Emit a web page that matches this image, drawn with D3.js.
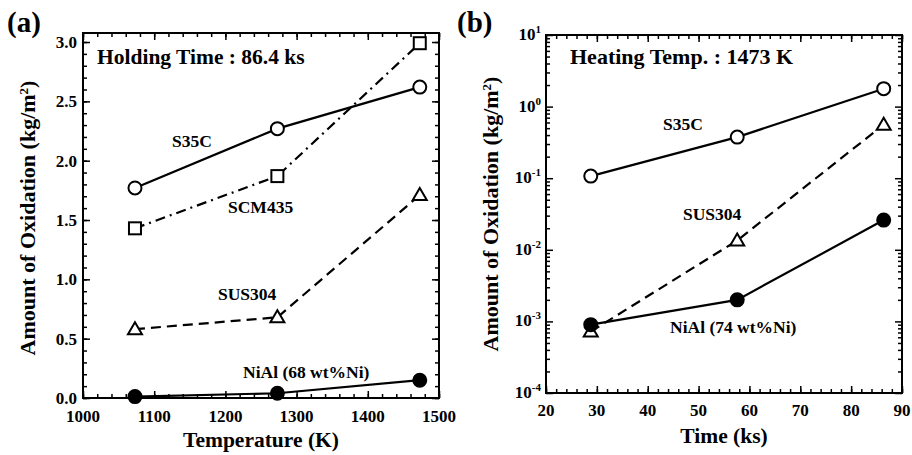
<!DOCTYPE html>
<html>
<head>
    <meta charset="utf-8">
    <title>Amount of oxidation</title>
    <script src="https://d3js.org/d3.v7.min.js"></script>
    <style>
        body { margin: 0; background: white; }
        svg text { font-family: "Liberation Serif", "Times New Roman", serif; font-weight: bold; fill: black; }
        .tick line { stroke: black; stroke-width: 1.5; }
    </style>
</head>
<body>
    <div id="chart"></div>

    <script>
        // panel (a): holding time 86.4 ks
        var tempK = [1073, 1273, 1473];
        var a_s35c = [1.77, 2.27, 2.62];
        var a_scm435 = [1.43, 1.87, 2.99];
        var a_sus304 = [0.58, 0.68, 1.71];
        var a_nial = [0.012, 0.04, 0.15];
        var a_xticks = [1000, 1100, 1200, 1300, 1400, 1500];
        var a_yticks = [0, 0.5, 1.0, 1.5, 2.0, 2.5, 3.0];

        // panel (b): heating temp 1473 K
        var timeKs = [28.8, 57.6, 86.4];
        var b_s35c = [0.107, 0.375, 1.78];
        var b_sus304 = [0.00072, 0.0135, 0.56];
        var b_nial = [0.0009, 0.002, 0.026];
        var b_xticks = [20, 30, 40, 50, 60, 70, 80, 90];
        var b_yexp = [-4, -3, -2, -1, 0, 1];

        var W = 912, H = 455;
        var svg = d3.select("#chart").append("svg")
                    .attr("width", W)
                    .attr("height", H);

        function frame(g, x0, x1, y0, y1)
        {
            g.append("rect")
             .attr("x", x0).attr("y", y0)
             .attr("width", x1 - x0).attr("height", y1 - y0)
             .attr("fill", "none").attr("stroke", "black").attr("stroke-width", 2);
        }

        // inward ticks on all 4 sides, no labels
        function tick_axes(g, x, y, xmaj, xmin, ymaj, ymin, left, right, top, bottom)
        {
            var defs = [
                [d3.axisBottom(x).tickValues(xmaj).tickSize(-7), bottom, 0],
                [d3.axisBottom(x).tickValues(xmin).tickSize(-4), bottom, 0],
                [d3.axisTop(x).tickValues(xmaj).tickSize(-7), top, 0],
                [d3.axisTop(x).tickValues(xmin).tickSize(-4), top, 0],
                [d3.axisLeft(y).tickValues(ymaj).tickSize(-7), left, 1],
                [d3.axisLeft(y).tickValues(ymin).tickSize(-4), left, 1],
                [d3.axisRight(y).tickValues(ymaj).tickSize(-7), right, 1],
                [d3.axisRight(y).tickValues(ymin).tickSize(-4), right, 1]
            ];
            defs.forEach(function(d){
                var ax = g.append("g")
                          .attr("transform", d[2] ? "translate(" + d[1] + ",0)" : "translate(0," + d[1] + ")")
                          .call(d[0].tickFormat(""));
                ax.select(".domain").remove();
            });
        }

        function draw_series(g, x, y, xs, ys, dash, marker)
        {
            var pts = xs.map(function(v, i){ return [x(v), y(ys[i])]; });
            g.append("path")
             .attr("d", d3.line()(pts))
             .attr("fill", "none").attr("stroke", "black").attr("stroke-width", 2.2)
             .attr("stroke-dasharray", dash);
            pts.forEach(function(p){
                if(marker == "circle" || marker == "dot")
                    g.append("circle").attr("cx", p[0]).attr("cy", p[1]).attr("r", 6.5)
                     .attr("fill", marker == "dot" ? "black" : "white")
                     .attr("stroke", "black").attr("stroke-width", 2);
                else if(marker == "square")
                    g.append("rect").attr("x", p[0] - 6).attr("y", p[1] - 6)
                     .attr("width", 12).attr("height", 12)
                     .attr("fill", "white").attr("stroke", "black").attr("stroke-width", 2);
                else
                    g.append("path")
                     .attr("d", "M" + p[0] + "," + (p[1] - 7) + "L" + (p[0] + 7) + "," + (p[1] + 5) + "L" + (p[0] - 7) + "," + (p[1] + 5) + "Z")
                     .attr("fill", "white").attr("stroke", "black").attr("stroke-width", 2)
                     .attr("stroke-linejoin", "miter");
            });
        }

        function label(g, txt, x, y, size, anchor)
        {
            g.append("text").attr("x", x).attr("y", y)
             .attr("font-size", size)
             .attr("text-anchor", anchor || "start")
             .text(txt);
        }

        // ---------- panel (a) ----------
        var ga = svg.append("g");
        var ax = d3.scaleLinear().domain([1000, 1500]).range([83, 439]);
        var ay = d3.scaleLinear().domain([0, 3.076]).range([398, 33]);

        frame(ga, 83, 439, 33, 398);
        tick_axes(ga, ax, ay, a_xticks, d3.range(1000, 1501, 20), a_yticks, d3.range(0, 3.05, 0.1),
                  83, 439, 33, 398);

        a_xticks.forEach(function(t){ label(ga, t, ax(t), 422, 17, "middle"); });
        a_yticks.forEach(function(t){ label(ga, t.toFixed(1), 77, ay(t) + 6, 17, "end"); });

        draw_series(ga, ax, ay, tempK, a_scm435, "10,5,2,5", "square");
        draw_series(ga, ax, ay, tempK, a_sus304, "10,6", "triangle");
        draw_series(ga, ax, ay, tempK, a_s35c, null, "circle");
        draw_series(ga, ax, ay, tempK, a_nial, null, "dot");

        label(ga, "(a)", 7, 32, 29);
        label(ga, "Holding Time : 86.4 ks", 97, 64, 21.5);
        label(ga, "S35C", 172, 147, 17.5);
        label(ga, "SCM435", 228, 213, 17.5);
        label(ga, "SUS304", 218, 300, 17.5);
        label(ga, "NiAl (68 wt%Ni)", 243, 378, 17.5);
        label(ga, "Temperature (K)", 261, 447, 21.5, "middle");
        ga.append("text")
          .attr("transform", "translate(35,218) rotate(-90)")
          .attr("text-anchor", "middle").attr("font-size", 22)
          .html("Amount of Oxidation (kg/m<tspan dy='-7' font-size='13'>2</tspan><tspan dy='7'>)</tspan>");

        // ---------- panel (b) ----------
        var gb = svg.append("g");
        var bx = d3.scaleLinear().domain([20, 90]).range([546, 902]);
        var by = d3.scaleLog().domain([1e-4, 10]).range([393, 35]);

        var logMinor = [];
        b_yexp.slice(0, -1).forEach(function(e){
            for(var k = 2; k <= 9; ++k)
                logMinor.push(k * Math.pow(10, e));
        });

        frame(gb, 546, 902, 35, 393);
        tick_axes(gb, bx, by, b_xticks, d3.range(20, 91, 2), b_yexp.map(function(e){ return Math.pow(10, e); }), logMinor,
                  546, 902, 35, 393);

        b_xticks.forEach(function(t){ label(gb, t, bx(t), 416, 17, "middle"); });
        b_yexp.forEach(function(e){
            gb.append("text")
              .attr("x", 541).attr("y", by(Math.pow(10, e)) + 5)
              .attr("text-anchor", "end").attr("font-size", 17)
              .html("10<tspan dy='-7' font-size='11'>" + e + "</tspan>");
        });

        draw_series(gb, bx, by, timeKs, b_sus304, "10,6", "triangle");
        draw_series(gb, bx, by, timeKs, b_s35c, null, "circle");
        draw_series(gb, bx, by, timeKs, b_nial, null, "dot");

        label(gb, "(b)", 457, 32, 29);
        label(gb, "Heating Temp. : 1473 K", 570, 64, 22);
        label(gb, "S35C", 663, 130, 17.5);
        label(gb, "SUS304", 683, 220, 17.5);
        label(gb, "NiAl (74 wt%Ni)", 670, 333, 17.5);
        label(gb, "Time (ks)", 724, 443, 21.5, "middle");
        gb.append("text")
          .attr("transform", "translate(498,214) rotate(-90)")
          .attr("text-anchor", "middle").attr("font-size", 22)
          .html("Amount of Oxidation (kg/m<tspan dy='-7' font-size='13'>2</tspan><tspan dy='7'>)</tspan>");
    </script>
</body>
</html>
